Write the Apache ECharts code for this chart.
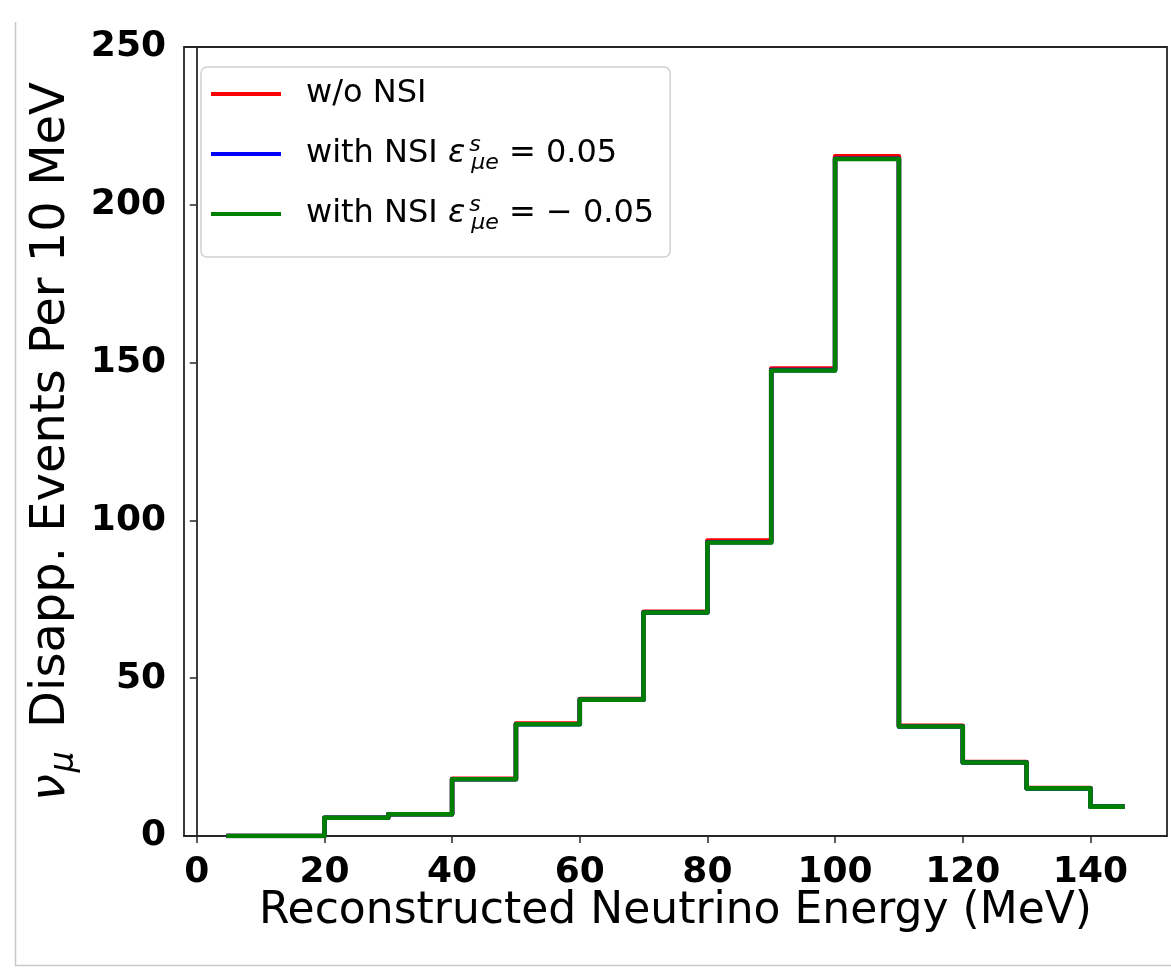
<!DOCTYPE html>
<html>
<head>
<meta charset="utf-8">
<script src="https://cdn.jsdelivr.net/npm/echarts@6/dist/echarts.min.js"></script>
<style>
  html, body { margin: 0; padding: 0; background: #fff; }
  #chart { width: 1171px; height: 968px; }
</style>
</head>
<body>
<div id="chart"></div>
<script>
// Bin centres (MeV), 10 MeV bins
const energy = [5, 15, 25, 35, 45, 55, 65, 75, 85, 95, 105, 115, 125, 135, 145];
// Events per 10 MeV
const woNSI  = [0, 0, 5.8, 6.9, 18.1, 35.6, 43.4, 71.0, 93.6, 148.1, 215.4, 34.9, 23.4, 15.2, 9.3];
const nsiPos = [0, 0, 5.8, 6.9, 18.0, 35.4, 43.2, 70.8, 93.1, 147.6, 214.6, 34.7, 23.3, 15.1, 9.3];
const nsiNeg = [0, 0, 5.8, 6.9, 18.0, 35.4, 43.2, 70.8, 93.0, 147.5, 214.5, 34.7, 23.3, 15.1, 9.3];
const xTicks = [0, 20, 40, 60, 80, 100, 120, 140];
const yTicks = [0, 50, 100, 150, 200, 250];
const seriesNames = ['w/o NSI', 'with NSI pos', 'with NSI neg'];

const FONT = 'DejaVu Sans';
const pair = (xs, ys) => xs.map((x, i) => [x, ys[i]]);

const chart = echarts.init(document.getElementById('chart'));

const mkSeries = (name, data, color) => ({
  name: name,
  type: 'line',
  step: 'middle',
  data: pair(energy, data),
  showSymbol: false,
  symbol: 'none',
  lineStyle: { color: color, width: 4.6, cap: 'square', join: 'round' },
  itemStyle: { color: color },
  emphasis: { disabled: true },
  animation: false
});

const legendLabels = {
  'w/o NSI': 'w/o NSI',
  'with NSI pos': 'with NSI {eps|ε}{sup|s}{sub|μe}{eq| = 0.05}',
  'with NSI neg': 'with NSI {eps|ε}{sup|s}{sub|μe}{eq| = − 0.05}'
};

chart.setOption({
  backgroundColor: '#ffffff',
  animation: false,
  grid: {
    left: 184, right: 4, top: 47, bottom: 132,
    show: true, borderColor: '#262626', borderWidth: 1.8, backgroundColor: '#ffffff'
  },
  legend: {
    data: seriesNames,
    orient: 'vertical',
    left: 201, top: 67,
    icon: 'rect',
    itemWidth: 70, itemHeight: 4,
    itemGap: 20,
    padding: [7, 16, 23, 10],
    backgroundColor: '#ffffff',
    borderColor: '#d0d0d0', borderWidth: 1.5, borderRadius: 6,
    selectedMode: false,
    formatter: name => legendLabels[name],
    textStyle: {
      fontFamily: FONT, fontSize: 32, color: '#000', lineHeight: 40,
      padding: [0, 0, 0, 20],
      rich: {
        eps: { fontFamily: FONT, fontSize: 32, fontStyle: 'italic', lineHeight: 40 },
        sup: { fontFamily: FONT, fontSize: 22, fontStyle: 'italic', verticalAlign: 'top', lineHeight: 26, width: 2, padding: [0, 0, 0, 4] },
        sub: { fontFamily: FONT, fontSize: 22, fontStyle: 'italic', verticalAlign: 'bottom', lineHeight: 18 },
        eq: { fontFamily: FONT, fontSize: 32, lineHeight: 40 }
      }
    }
  },
  xAxis: {
    type: 'value',
    min: -2, max: 152,
    name: 'Reconstructed Neutrino Energy (MeV)',
    nameLocation: 'middle',
    nameMoveOverlap: false,
    nameGap: 54,
    nameTextStyle: { fontFamily: FONT, fontSize: 44, color: '#000' },
    axisLine: { show: true, lineStyle: { color: '#262626', width: 1.8 } },
    axisTick: { show: true, inside: false, length: 7, customValues: xTicks, lineStyle: { color: '#262626', width: 1.5 } },
    axisLabel: { customValues: xTicks, margin: 19, fontFamily: FONT, fontSize: 36, fontWeight: 'bold', color: '#000' },
    splitLine: { show: false }
  },
  yAxis: {
    type: 'value',
    min: 0, max: 250, interval: 50,
    name: '{nu|ν}{mu|μ} Disapp. Events Per 10 MeV',
    nameLocation: 'middle',
    nameMoveOverlap: false,
    nameGap: 103,
    nameRotate: 90,
    nameTextStyle: {
      fontFamily: FONT, fontSize: 48, color: '#000', lineHeight: 58,
      rich: {
        nu: { fontFamily: FONT, fontSize: 48, fontStyle: 'italic', lineHeight: 58 },
        mu: { fontFamily: FONT, fontSize: 33, fontStyle: 'italic', verticalAlign: 'bottom', lineHeight: 42, padding: [0, 8, 0, 2] }
      }
    },
    axisLine: { show: true, lineStyle: { color: '#262626', width: 1.8 } },
    axisTick: { show: true, inside: false, length: 7, lineStyle: { color: '#262626', width: 1.5 } },
    axisLabel: { margin: 18, fontFamily: FONT, fontSize: 36, fontWeight: 'bold', color: '#000' },
    splitLine: { show: false }
  },
  graphic: [{
    type: 'polyline',
    silent: true,
    shape: { points: [[15.5, 22], [15.5, 965.5], [1171, 965.5]] },
    style: { stroke: '#c8c8c8', lineWidth: 1.5, fill: null }
  }],
  series: [
    mkSeries(seriesNames[0], woNSI, '#ff0000'),
    mkSeries(seriesNames[1], nsiPos, '#0000ff'),
    mkSeries(seriesNames[2], nsiNeg, '#008000')
  ]
});
</script>
</body>
</html>
